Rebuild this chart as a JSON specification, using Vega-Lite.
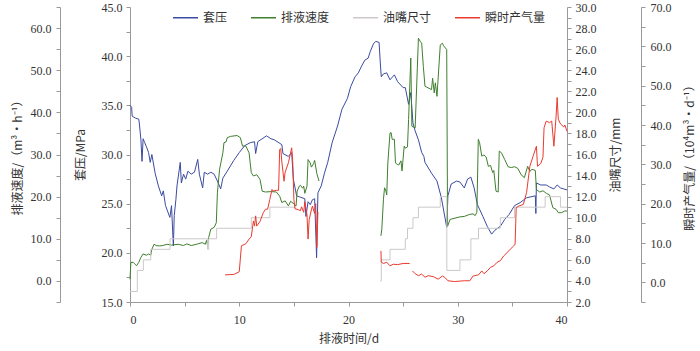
{
  "$schema": "https://vega.github.io/schema/vega-lite/v6.json",
  "autosize": "none",
  "width": 437,
  "height": 295,
  "padding": {"left": 130, "top": 7, "right": 133, "bottom": 49},
  "background": "white",
  "datasets": {
    "p": [
      {"s":"套压","g":1,"d":0,"v":35.0},{"s":"套压","g":1,"d":0.15,"v":34.8},{"s":"套压","g":1,"d":0.2,"v":33.9},{"s":"套压","g":1,"d":0.5,"v":33.7},{"s":"套压","g":1,"d":0.8,"v":33.6},{"s":"套压","g":1,"d":0.85,"v":33.2},{"s":"套压","g":1,"d":1.0,"v":31.5},{"s":"套压","g":1,"d":1.1,"v":29.3},{"s":"套压","g":1,"d":1.2,"v":31.6},{"s":"套压","g":1,"d":1.35,"v":31.2},{"s":"套压","g":1,"d":1.5,"v":30.8},{"s":"套压","g":1,"d":1.7,"v":30.2},{"s":"套压","g":1,"d":1.85,"v":29.2},{"s":"套压","g":1,"d":2.0,"v":30.0},{"s":"套压","g":1,"d":2.3,"v":28.1},{"s":"套压","g":1,"d":2.6,"v":26.8},{"s":"套压","g":1,"d":2.9,"v":25.8},{"s":"套压","g":1,"d":3.05,"v":26.3},{"s":"套压","g":1,"d":3.25,"v":24.8},{"s":"套压","g":1,"d":3.65,"v":23.6},{"s":"套压","g":1,"d":3.8,"v":24.8},{"s":"套压","g":1,"d":3.97,"v":20.7},{"s":"套压","g":1,"d":4.05,"v":23.8},{"s":"套压","g":1,"d":4.2,"v":25.4},{"s":"套压","g":1,"d":4.3,"v":26.8},{"s":"套压","g":1,"d":4.6,"v":29.2},{"s":"套压","g":1,"d":4.7,"v":27.1},{"s":"套压","g":1,"d":4.9,"v":28.0},{"s":"套压","g":1,"d":5.1,"v":27.5},{"s":"套压","g":1,"d":5.3,"v":28.3},{"s":"套压","g":1,"d":5.6,"v":28.0},{"s":"套压","g":1,"d":5.9,"v":28.2},{"s":"套压","g":1,"d":6.2,"v":29.5},{"s":"套压","g":1,"d":6.35,"v":28.0},{"s":"套压","g":1,"d":6.65,"v":26.6},{"s":"套压","g":1,"d":6.8,"v":28.2},{"s":"套压","g":1,"d":7.1,"v":28.0},{"s":"套压","g":1,"d":7.4,"v":28.2},{"s":"套压","g":1,"d":7.7,"v":28.0},{"s":"套压","g":1,"d":8.0,"v":27.3},{"s":"套压","g":1,"d":8.3,"v":26.5},{"s":"套压","g":1,"d":8.5,"v":27.6},{"s":"套压","g":1,"d":8.9,"v":28.3},{"s":"套压","g":1,"d":9.5,"v":29.4},{"s":"套压","g":1,"d":10.0,"v":30.2},{"s":"套压","g":1,"d":10.5,"v":30.9},{"s":"套压","g":1,"d":11.0,"v":31.2},{"s":"套压","g":1,"d":11.4,"v":31.3},{"s":"套压","g":1,"d":11.5,"v":30.1},{"s":"套压","g":1,"d":11.7,"v":31.3},{"s":"套压","g":1,"d":12.5,"v":31.9},{"s":"套压","g":1,"d":12.9,"v":31.6},{"s":"套压","g":1,"d":13.2,"v":31.5},{"s":"套压","g":1,"d":13.9,"v":31.0},{"s":"套压","g":1,"d":14.0,"v":30.1},{"s":"套压","g":1,"d":14.5,"v":29.8},{"s":"套压","g":1,"d":14.8,"v":30.2},{"s":"套压","g":1,"d":14.95,"v":27.5},{"s":"套压","g":1,"d":15.25,"v":25.8},{"s":"套压","g":1,"d":15.5,"v":25.7},{"s":"套压","g":1,"d":16.0,"v":25.5},{"s":"套压","g":1,"d":16.1,"v":23.7},{"s":"套压","g":1,"d":16.3,"v":25.2},{"s":"套压","g":1,"d":16.5,"v":24.9},{"s":"套压","g":1,"d":16.7,"v":25.4},{"s":"套压","g":1,"d":16.9,"v":25.5},{"s":"套压","g":1,"d":17.08,"v":19.5},{"s":"套压","g":1,"d":17.2,"v":26.1},{"s":"套压","g":1,"d":17.5,"v":26.8},{"s":"套压","g":1,"d":17.8,"v":28.1},{"s":"套压","g":1,"d":18.1,"v":29.2},{"s":"套压","g":1,"d":18.5,"v":31.2},{"s":"套压","g":1,"d":19.0,"v":32.9},{"s":"套压","g":1,"d":19.4,"v":34.6},{"s":"套压","g":1,"d":19.9,"v":35.7},{"s":"套压","g":1,"d":20.2,"v":36.9},{"s":"套压","g":1,"d":20.6,"v":37.9},{"s":"套压","g":1,"d":20.9,"v":38.3},{"s":"套压","g":1,"d":21.2,"v":39.0},{"s":"套压","g":1,"d":21.5,"v":39.6},{"s":"套压","g":1,"d":21.8,"v":39.8},{"s":"套压","g":1,"d":22.0,"v":40.5},{"s":"套压","g":1,"d":22.3,"v":41.3},{"s":"套压","g":1,"d":22.5,"v":41.5},{"s":"套压","g":1,"d":22.8,"v":41.4},{"s":"套压","g":1,"d":22.9,"v":39.5},{"s":"套压","g":1,"d":23.0,"v":37.9},{"s":"套压","g":1,"d":23.2,"v":38.2},{"s":"套压","g":1,"d":23.5,"v":38.3},{"s":"套压","g":1,"d":23.8,"v":37.6},{"s":"套压","g":1,"d":24.2,"v":38.1},{"s":"套压","g":1,"d":24.5,"v":37.4},{"s":"套压","g":1,"d":25.0,"v":36.8},{"s":"套压","g":1,"d":25.2,"v":36.8},{"s":"套压","g":1,"d":25.5,"v":35.1},{"s":"套压","g":1,"d":25.7,"v":36.3},{"s":"套压","g":1,"d":25.9,"v":33.2},{"s":"套压","g":1,"d":26.1,"v":32.4},{"s":"套压","g":1,"d":26.4,"v":31.5},{"s":"套压","g":1,"d":26.7,"v":30.2},{"s":"套压","g":1,"d":26.9,"v":29.8},{"s":"套压","g":1,"d":27.0,"v":29.2},{"s":"套压","g":1,"d":27.6,"v":28.1},{"s":"套压","g":1,"d":28.1,"v":27.3},{"s":"套压","g":1,"d":28.5,"v":25.6},{"s":"套压","g":1,"d":28.99,"v":22.6},{"s":"套压","g":1,"d":29.1,"v":25.8},{"s":"套压","g":1,"d":29.4,"v":27.0},{"s":"套压","g":1,"d":29.9,"v":27.3},{"s":"套压","g":1,"d":30.2,"v":27.2},{"s":"套压","g":1,"d":30.6,"v":26.6},{"s":"套压","g":1,"d":30.9,"v":27.5},{"s":"套压","g":1,"d":31.2,"v":27.7},{"s":"套压","g":1,"d":31.5,"v":26.6},{"s":"套压","g":1,"d":31.8,"v":24.9},{"s":"套压","g":1,"d":32.3,"v":23.7},{"s":"套压","g":1,"d":32.7,"v":22.7},{"s":"套压","g":1,"d":33.1,"v":21.9},{"s":"套压","g":1,"d":33.4,"v":22.3},{"s":"套压","g":1,"d":33.9,"v":22.7},{"s":"套压","g":1,"d":34.3,"v":23.4},{"s":"套压","g":1,"d":34.7,"v":23.9},{"s":"套压","g":1,"d":35.2,"v":24.8},{"s":"套压","g":1,"d":35.7,"v":25.1},{"s":"套压","g":1,"d":36.3,"v":25.6},{"s":"套压","g":1,"d":36.7,"v":25.7},{"s":"套压","g":1,"d":37.1,"v":25.8},{"s":"套压","g":1,"d":37.15,"v":24.0},{"s":"套压","g":1,"d":37.2,"v":27.1},{"s":"套压","g":1,"d":37.6,"v":26.9},{"s":"套压","g":1,"d":38.1,"v":26.9},{"s":"套压","g":1,"d":38.4,"v":26.7},{"s":"套压","g":1,"d":38.8,"v":26.5},{"s":"套压","g":1,"d":39.1,"v":26.9},{"s":"套压","g":1,"d":39.4,"v":26.6},{"s":"套压","g":1,"d":39.7,"v":26.5},{"s":"套压","g":1,"d":40.0,"v":26.4}
    ],
    "v": [
      {"s":"排液速度","g":1,"d":0,"v":0.4},{"s":"排液速度","g":1,"d":0.08,"v":4.4},{"s":"排液速度","g":1,"d":0.3,"v":4.4},{"s":"排液速度","g":1,"d":0.6,"v":3.6},{"s":"排液速度","g":1,"d":0.8,"v":4.4},{"s":"排液速度","g":1,"d":1.0,"v":5.6},{"s":"排液速度","g":1,"d":1.2,"v":6.4},{"s":"排液速度","g":1,"d":1.5,"v":6.1},{"s":"排液速度","g":1,"d":1.7,"v":6.4},{"s":"排液速度","g":1,"d":1.9,"v":6.1},{"s":"排液速度","g":1,"d":2.0,"v":7.5},{"s":"排液速度","g":1,"d":2.2,"v":8.7},{"s":"排液速度","g":1,"d":2.4,"v":8.4},{"s":"排液速度","g":1,"d":2.7,"v":8.3},{"s":"排液速度","g":1,"d":3.0,"v":8.4},{"s":"排液速度","g":1,"d":3.4,"v":8.7},{"s":"排液速度","g":1,"d":3.8,"v":8.5},{"s":"排液速度","g":1,"d":4.4,"v":8.7},{"s":"排液速度","g":1,"d":4.9,"v":8.4},{"s":"排液速度","g":1,"d":5.2,"v":8.8},{"s":"排液速度","g":1,"d":5.6,"v":8.4},{"s":"排液速度","g":1,"d":6.1,"v":8.7},{"s":"排液速度","g":1,"d":6.6,"v":9.1},{"s":"排液速度","g":1,"d":6.9,"v":8.7},{"s":"排液速度","g":1,"d":7.0,"v":9.6},{"s":"排液速度","g":1,"d":7.1,"v":8.5},{"s":"排液速度","g":1,"d":7.2,"v":10.3},{"s":"排液速度","g":1,"d":7.4,"v":12.3},{"s":"排液速度","g":1,"d":7.7,"v":12.7},{"s":"排液速度","g":1,"d":7.9,"v":13.8},{"s":"排液速度","g":1,"d":8.0,"v":20.9},{"s":"排液速度","g":1,"d":8.2,"v":26.5},{"s":"排液速度","g":1,"d":8.5,"v":30.4},{"s":"排液速度","g":1,"d":8.6,"v":32.8},{"s":"排液速度","g":1,"d":8.8,"v":33.0},{"s":"排液速度","g":1,"d":8.9,"v":34.0},{"s":"排液速度","g":1,"d":9.2,"v":34.3},{"s":"排液速度","g":1,"d":9.8,"v":34.5},{"s":"排液速度","g":1,"d":10.1,"v":34.0},{"s":"排液速度","g":1,"d":10.3,"v":32.0},{"s":"排液速度","g":1,"d":10.6,"v":32.0},{"s":"排液速度","g":1,"d":10.9,"v":30.4},{"s":"排液速度","g":1,"d":11.1,"v":25.7},{"s":"排液速度","g":1,"d":11.3,"v":24.9},{"s":"排液速度","g":1,"d":11.6,"v":25.2},{"s":"排液速度","g":1,"d":11.9,"v":24.1},{"s":"排液速度","g":1,"d":12.1,"v":21.3},{"s":"排液速度","g":1,"d":12.4,"v":21.1},{"s":"排液速度","g":1,"d":12.9,"v":21.2},{"s":"排液速度","g":1,"d":13.4,"v":21.1},{"s":"排液速度","g":1,"d":13.7,"v":20.1},{"s":"排液速度","g":1,"d":13.9,"v":18.6},{"s":"排液速度","g":1,"d":14.2,"v":19.0},{"s":"排液速度","g":1,"d":14.5,"v":17.8},{"s":"排液速度","g":1,"d":14.7,"v":18.9},{"s":"排液速度","g":1,"d":15.0,"v":18.3},{"s":"排液速度","g":1,"d":15.2,"v":17.8},{"s":"排液速度","g":1,"d":15.3,"v":21.3},{"s":"排液速度","g":1,"d":15.5,"v":22.5},{"s":"排液速度","g":1,"d":15.6,"v":22.7},{"s":"排液速度","g":1,"d":15.8,"v":22.0},{"s":"排液速度","g":1,"d":15.9,"v":22.5},{"s":"排液速度","g":1,"d":16.0,"v":20.8},{"s":"排液速度","g":1,"d":16.2,"v":22.5},{"s":"排液速度","g":1,"d":16.3,"v":28.8},{"s":"排液速度","g":1,"d":16.5,"v":28.0},{"s":"排液速度","g":1,"d":16.6,"v":27.0},{"s":"排液速度","g":1,"d":16.8,"v":27.8},{"s":"排液速度","g":1,"d":16.9,"v":28.6},{"s":"排液速度","g":1,"d":17.1,"v":25.5},{"s":"排液速度","g":1,"d":17.3,"v":23.7},
      {"s":"排液速度","g":2,"d":22.97,"v":10.7},{"s":"排液速度","g":2,"d":23.05,"v":12.3},{"s":"排液速度","g":2,"d":23.2,"v":19.4},{"s":"排液速度","g":2,"d":23.3,"v":22.1},{"s":"排液速度","g":2,"d":23.4,"v":21.6},{"s":"排液速度","g":2,"d":23.5,"v":20.4},{"s":"排液速度","g":2,"d":23.6,"v":28.0},{"s":"排液速度","g":2,"d":23.8,"v":35.1},{"s":"排液速度","g":2,"d":23.9,"v":35.2},{"s":"排液速度","g":2,"d":24.0,"v":33.6},{"s":"排液速度","g":2,"d":24.2,"v":33.6},{"s":"排液速度","g":2,"d":24.3,"v":28.0},{"s":"排液速度","g":2,"d":24.5,"v":27.6},{"s":"排液速度","g":2,"d":24.6,"v":27.5},{"s":"排液速度","g":2,"d":24.8,"v":28.5},{"s":"排液速度","g":2,"d":24.9,"v":26.1},{"s":"排液速度","g":2,"d":25.1,"v":32.0},{"s":"排液速度","g":2,"d":25.2,"v":31.5},{"s":"排液速度","g":2,"d":25.4,"v":31.8},{"s":"排液速度","g":2,"d":25.5,"v":38.3},{"s":"排液速度","g":2,"d":25.7,"v":52.9},{"s":"排液速度","g":2,"d":25.8,"v":36.7},{"s":"排液速度","g":2,"d":26.1,"v":36.3},{"s":"排液速度","g":2,"d":26.4,"v":57.6},{"s":"排液速度","g":2,"d":26.55,"v":56.9},{"s":"排液速度","g":2,"d":26.7,"v":56.4},{"s":"排液速度","g":2,"d":26.85,"v":50.9},{"s":"排液速度","g":2,"d":27.0,"v":46.2},{"s":"排液速度","g":2,"d":27.3,"v":45.8},{"s":"排液速度","g":2,"d":27.6,"v":45.4},{"s":"排液速度","g":2,"d":27.7,"v":48.1},{"s":"排液速度","g":2,"d":27.85,"v":44.6},{"s":"排液速度","g":2,"d":27.95,"v":47.0},{"s":"排液速度","g":2,"d":28.1,"v":43.8},{"s":"排液速度","g":2,"d":28.4,"v":56.0},{"s":"排液速度","g":2,"d":28.6,"v":56.4},{"s":"排液速度","g":2,"d":28.7,"v":55.8},{"s":"排液速度","g":2,"d":28.99,"v":54.9},{"s":"排液速度","g":2,"d":29.07,"v":13.0},{"s":"排液速度","g":2,"d":29.3,"v":14.6},{"s":"排液速度","g":2,"d":29.75,"v":14.9},{"s":"排液速度","g":2,"d":30.2,"v":15.2},{"s":"排液速度","g":2,"d":30.6,"v":15.3},{"s":"排液速度","g":2,"d":31.1,"v":15.8},{"s":"排液速度","g":2,"d":31.4,"v":15.9},{"s":"排液速度","g":2,"d":31.6,"v":15.5},{"s":"排液速度","g":2,"d":31.75,"v":16.3},{"s":"排液速度","g":2,"d":31.88,"v":33.6},{"s":"排液速度","g":2,"d":32.0,"v":32.8},{"s":"排液速度","g":2,"d":32.2,"v":29.6},{"s":"排液速度","g":2,"d":32.4,"v":29.9},{"s":"排液速度","g":2,"d":32.6,"v":29.4},{"s":"排液速度","g":2,"d":32.8,"v":27.2},{"s":"排液速度","g":2,"d":33.0,"v":27.4},{"s":"排液速度","g":2,"d":33.2,"v":25.7},{"s":"排液速度","g":2,"d":33.3,"v":26.2},{"s":"排液速度","g":2,"d":33.5,"v":21.3},{"s":"排液速度","g":2,"d":33.7,"v":21.1},{"s":"排液速度","g":2,"d":33.8,"v":30.8},{"s":"排液速度","g":2,"d":34.0,"v":30.4},{"s":"排液速度","g":2,"d":34.3,"v":28.8},{"s":"排液速度","g":2,"d":34.6,"v":27.1},{"s":"排液速度","g":2,"d":34.9,"v":26.9},{"s":"排液速度","g":2,"d":35.2,"v":27.1},{"s":"排液速度","g":2,"d":35.5,"v":26.7},{"s":"排液速度","g":2,"d":35.8,"v":25.2},{"s":"排液速度","g":2,"d":36.1,"v":24.5},{"s":"排液速度","g":2,"d":36.4,"v":27.2},{"s":"排液速度","g":2,"d":36.6,"v":26.0},{"s":"排液速度","g":2,"d":36.8,"v":26.5},{"s":"排液速度","g":2,"d":37.1,"v":26.2},{"s":"排液速度","g":2,"d":37.2,"v":21.7},{"s":"排液速度","g":2,"d":37.5,"v":21.1},{"s":"排液速度","g":2,"d":37.8,"v":21.4},{"s":"排液速度","g":2,"d":38.1,"v":20.8},{"s":"排液速度","g":2,"d":38.4,"v":20.4},{"s":"排液速度","g":2,"d":38.7,"v":17.4},{"s":"排液速度","g":2,"d":39.0,"v":17.0},{"s":"排液速度","g":2,"d":39.2,"v":16.2},{"s":"排液速度","g":2,"d":39.5,"v":16.2},{"s":"排液速度","g":2,"d":39.8,"v":16.6},{"s":"排液速度","g":2,"d":40.0,"v":16.6}
    ],
    "n": [
      {"s":"油嘴尺寸","g":1,"d":0,"v":3},{"s":"油嘴尺寸","g":1,"d":0.67,"v":5},{"s":"油嘴尺寸","g":1,"d":1.22,"v":6},{"s":"油嘴尺寸","g":1,"d":1.9,"v":7},{"s":"油嘴尺寸","g":1,"d":3.66,"v":8},{"s":"油嘴尺寸","g":1,"d":7.1,"v":7},{"s":"油嘴尺寸","g":1,"d":7.2,"v":8},{"s":"油嘴尺寸","g":1,"d":7.93,"v":9},{"s":"油嘴尺寸","g":1,"d":11.1,"v":10},{"s":"油嘴尺寸","g":1,"d":12.8,"v":11},{"s":"油嘴尺寸","g":1,"d":15.2,"v":11},
      {"s":"油嘴尺寸","g":2,"d":22.9,"v":4},{"s":"油嘴尺寸","g":2,"d":23.0,"v":6},{"s":"油嘴尺寸","g":2,"d":23.8,"v":7},{"s":"油嘴尺寸","g":2,"d":25.2,"v":8},{"s":"油嘴尺寸","g":2,"d":25.4,"v":9},{"s":"油嘴尺寸","g":2,"d":25.9,"v":10},{"s":"油嘴尺寸","g":2,"d":26.4,"v":11},{"s":"油嘴尺寸","g":2,"d":28.4,"v":12},{"s":"油嘴尺寸","g":2,"d":29.0,"v":5},{"s":"油嘴尺寸","g":2,"d":30.2,"v":6},{"s":"油嘴尺寸","g":2,"d":31.2,"v":8},{"s":"油嘴尺寸","g":2,"d":31.9,"v":9},{"s":"油嘴尺寸","g":2,"d":33.9,"v":10},{"s":"油嘴尺寸","g":2,"d":35.2,"v":11},{"s":"油嘴尺寸","g":2,"d":38.0,"v":12},{"s":"油嘴尺寸","g":2,"d":39.4,"v":11},{"s":"油嘴尺寸","g":2,"d":40.0,"v":11}
    ],
    "q": [
      {"s":"瞬时产气量","g":1,"d":8.7,"v":1.9},{"s":"瞬时产气量","g":1,"d":9.5,"v":2.0},{"s":"瞬时产气量","g":1,"d":10.0,"v":2.7},{"s":"瞬时产气量","g":1,"d":10.2,"v":9.3},{"s":"瞬时产气量","g":1,"d":10.6,"v":9.8},{"s":"瞬时产气量","g":1,"d":10.9,"v":11.0},{"s":"瞬时产气量","g":1,"d":11.1,"v":11.6},{"s":"瞬时产气量","g":1,"d":11.3,"v":15.6},{"s":"瞬时产气量","g":1,"d":11.4,"v":14.3},{"s":"瞬时产气量","g":1,"d":11.5,"v":16.9},{"s":"瞬时产气量","g":1,"d":11.6,"v":14.3},{"s":"瞬时产气量","g":1,"d":11.9,"v":15.5},{"s":"瞬时产气量","g":1,"d":12.2,"v":17.7},{"s":"瞬时产气量","g":1,"d":12.4,"v":18.6},{"s":"瞬时产气量","g":1,"d":12.6,"v":18.6},{"s":"瞬时产气量","g":1,"d":12.8,"v":21.1},{"s":"瞬时产气量","g":1,"d":13.0,"v":23.6},{"s":"瞬时产气量","g":1,"d":13.1,"v":23.2},{"s":"瞬时产气量","g":1,"d":13.4,"v":23.4},{"s":"瞬时产气量","g":1,"d":13.6,"v":23.4},{"s":"瞬时产气量","g":1,"d":13.7,"v":33.8},{"s":"瞬时产气量","g":1,"d":13.8,"v":34.0},{"s":"瞬时产气量","g":1,"d":13.9,"v":30.6},{"s":"瞬时产气量","g":1,"d":14.1,"v":25.7},{"s":"瞬时产气量","g":1,"d":14.2,"v":28.0},{"s":"瞬时产气量","g":1,"d":14.5,"v":30.4},{"s":"瞬时产气量","g":1,"d":14.8,"v":34.2},{"s":"瞬时产气量","g":1,"d":14.9,"v":30.4},{"s":"瞬时产气量","g":1,"d":15.0,"v":21.1},{"s":"瞬时产气量","g":1,"d":15.1,"v":18.7},{"s":"瞬时产气量","g":1,"d":15.4,"v":18.5},{"s":"瞬时产气量","g":1,"d":15.6,"v":18.2},{"s":"瞬时产气量","g":1,"d":15.7,"v":19.2},{"s":"瞬时产气量","g":1,"d":15.9,"v":17.8},{"s":"瞬时产气量","g":1,"d":16.0,"v":20.5},{"s":"瞬时产气量","g":1,"d":16.2,"v":17.2},{"s":"瞬时产气量","g":1,"d":16.3,"v":11.0},{"s":"瞬时产气量","g":1,"d":16.4,"v":15.9},{"s":"瞬时产气量","g":1,"d":16.6,"v":18.4},{"s":"瞬时产气量","g":1,"d":16.7,"v":19.4},{"s":"瞬时产气量","g":1,"d":16.9,"v":17.5},{"s":"瞬时产气量","g":1,"d":17.0,"v":20.0},{"s":"瞬时产气量","g":1,"d":17.1,"v":8.9},{"s":"瞬时产气量","g":1,"d":17.2,"v":17.9},
      {"s":"瞬时产气量","g":2,"d":22.97,"v":8.0},{"s":"瞬时产气量","g":2,"d":23.0,"v":5.1},{"s":"瞬时产气量","g":2,"d":23.2,"v":4.8},{"s":"瞬时产气量","g":2,"d":23.5,"v":5.1},{"s":"瞬时产气量","g":2,"d":23.8,"v":4.2},{"s":"瞬时产气量","g":2,"d":24.1,"v":4.6},{"s":"瞬时产气量","g":2,"d":24.5,"v":4.5},{"s":"瞬时产气量","g":2,"d":25.0,"v":4.8},{"s":"瞬时产气量","g":2,"d":25.6,"v":4.8},
      {"s":"瞬时产气量","g":3,"d":25.85,"v":2.9},{"s":"瞬时产气量","g":3,"d":26.1,"v":2.2},{"s":"瞬时产气量","g":3,"d":26.4,"v":1.7},{"s":"瞬时产气量","g":3,"d":26.7,"v":2.1},{"s":"瞬时产气量","g":3,"d":27.0,"v":1.3},{"s":"瞬时产气量","g":3,"d":27.3,"v":1.7},{"s":"瞬时产气量","g":3,"d":27.8,"v":1.4},{"s":"瞬时产气量","g":3,"d":28.2,"v":0.8},{"s":"瞬时产气量","g":3,"d":28.6,"v":1.6},{"s":"瞬时产气量","g":3,"d":28.8,"v":1.3},{"s":"瞬时产气量","g":3,"d":29.1,"v":0.4},{"s":"瞬时产气量","g":3,"d":29.7,"v":0.2},{"s":"瞬时产气量","g":3,"d":30.6,"v":0.4},{"s":"瞬时产气量","g":3,"d":31.1,"v":0.4},{"s":"瞬时产气量","g":3,"d":31.4,"v":1.6},{"s":"瞬时产气量","g":3,"d":31.9,"v":1.9},{"s":"瞬时产气量","g":3,"d":32.2,"v":2.9},{"s":"瞬时产气量","g":3,"d":32.4,"v":2.2},{"s":"瞬时产气量","g":3,"d":32.7,"v":2.9},{"s":"瞬时产气量","g":3,"d":33.0,"v":3.8},{"s":"瞬时产气量","g":3,"d":33.3,"v":4.2},{"s":"瞬时产气量","g":3,"d":33.6,"v":5.1},{"s":"瞬时产气量","g":3,"d":33.9,"v":5.5},{"s":"瞬时产气量","g":3,"d":34.2,"v":6.7},{"s":"瞬时产气量","g":3,"d":34.5,"v":7.5},{"s":"瞬时产气量","g":3,"d":34.8,"v":8.4},{"s":"瞬时产气量","g":3,"d":35.1,"v":9.2},{"s":"瞬时产气量","g":3,"d":35.25,"v":9.7},{"s":"瞬时产气量","g":3,"d":35.35,"v":19.0},{"s":"瞬时产气量","g":3,"d":35.6,"v":19.4},{"s":"瞬时产气量","g":3,"d":36.0,"v":19.8},{"s":"瞬时产气量","g":3,"d":36.3,"v":22.8},{"s":"瞬时产气量","g":3,"d":36.6,"v":29.5},{"s":"瞬时产气量","g":3,"d":36.9,"v":32.1},{"s":"瞬时产气量","g":3,"d":37.2,"v":34.6},{"s":"瞬时产气量","g":3,"d":37.3,"v":29.5},{"s":"瞬时产气量","g":3,"d":37.6,"v":30.2},{"s":"瞬时产气量","g":3,"d":37.8,"v":31.8},{"s":"瞬时产气量","g":3,"d":37.9,"v":39.3},{"s":"瞬时产气量","g":3,"d":38.1,"v":41.0},{"s":"瞬时产气量","g":3,"d":38.4,"v":40.6},{"s":"瞬时产气量","g":3,"d":38.6,"v":41.0},{"s":"瞬时产气量","g":3,"d":38.8,"v":34.6},{"s":"瞬时产气量","g":3,"d":39.0,"v":42.2},{"s":"瞬时产气量","g":3,"d":39.1,"v":47.0},{"s":"瞬时产气量","g":3,"d":39.2,"v":41.5},{"s":"瞬时产气量","g":3,"d":39.4,"v":40.3},{"s":"瞬时产气量","g":3,"d":39.7,"v":39.5},{"s":"瞬时产气量","g":3,"d":39.8,"v":40.0},{"s":"瞬时产气量","g":3,"d":40.0,"v":38.4}
    ]
  },
  "encoding": {
    "x": {
      "field": "d", "type": "quantitative",
      "scale": {"domain": [0, 40], "nice": false},
      "axis": {
        "title": "排液时间/d",
        "values": [0, 5, 10, 15, 20, 25, 30, 35, 40],
        "labelExpr": "datum.value % 10 == 0 ? format(datum.value, 'd') : ''",
        "labelPadding": 8, "titlePadding": 8
      }
    },
    "color": {
      "field": "s", "type": "nominal",
      "scale": {"domain": ["套压", "排液速度", "油嘴尺寸", "瞬时产气量"], "range": ["#3b4ba0", "#3f7f2f", "#ccc8c8", "#ea3a2e"]},
      "legend": {"title": null, "orient": "none", "legendX": 42, "legendY": -3, "direction": "horizontal", "columns": 4, "columnPadding": 20, "symbolType": "stroke", "symbolSize": 625, "symbolStrokeWidth": 1.5, "labelOffset": 4, "labelFontSize": 12, "labelFont": "Noto Sans CJK SC", "labelColor": "#333", "padding": 0}
    },
    "detail": {"field": "g"}
  },
  "layer": [
    {
      "data": {"name": "p"},
      "mark": {"type": "line", "strokeWidth": 1},
      "encoding": {
        "y": {"field": "v", "type": "quantitative", "scale": {"domain": [15, 45], "nice": false, "zero": false},
          "axis": {"orient": "left", "offset": 0, "title": "套压/MPa", "titlePadding": 14, "values": [15, 17.5, 20, 22.5, 25, 27.5, 30, 32.5, 35, 37.5, 40, 42.5, 45], "labelExpr": "datum.value % 5 == 0 ? format(datum.value, '.1f') : ''"}}
      }
    },
    {
      "data": {"name": "v"},
      "mark": {"type": "line", "strokeWidth": 1},
      "encoding": {
        "y": {"field": "v", "type": "quantitative", "scale": {"domain": [-5, 65], "nice": false, "zero": false},
          "axis": {"orient": "left", "offset": 70, "title": "排液速度/（m³•h⁻¹）", "values": [-5, 0, 5, 10, 15, 20, 25, 30, 35, 40, 45, 50, 55, 60, 65], "labelExpr": "datum.value % 10 == 0 ? format(datum.value, '.1f') : ''", "labelPadding": 5}}
      }
    },
    {
      "data": {"name": "n"},
      "mark": {"type": "line", "strokeWidth": 1, "interpolate": "step-after"},
      "encoding": {
        "y": {"field": "v", "type": "quantitative", "scale": {"domain": [2, 30], "nice": false, "zero": false},
          "axis": {"orient": "right", "offset": 0, "title": "油嘴尺寸/mm", "titleAngle": -90, "titleBaseline": "top", "titlePadding": 14, "values": [2,3,4,5,6,7,8,9,10,11,12,13,14,15,16,17,18,19,20,21,22,23,24,25,26,27,28,29,30], "labelExpr": "datum.value % 2 == 0 ? format(datum.value, '.1f') : ''"}}
      }
    },
    {
      "data": {"name": "q"},
      "mark": {"type": "line", "strokeWidth": 1},
      "encoding": {
        "y": {"field": "v", "type": "quantitative", "scale": {"domain": [-5, 70], "nice": false, "zero": false},
          "axis": {"orient": "right", "offset": 74, "title": "瞬时产气量/（10⁴m³•d⁻¹）", "titleAngle": -90, "titleBaseline": "top", "titlePadding": 13, "values": [-5, 0, 5, 10, 15, 20, 25, 30, 35, 40, 45, 50, 55, 60, 65, 70], "labelExpr": "datum.value % 10 == 0 ? format(datum.value, '.1f') : ''", "labelPadding": 5}}
      }
    }
  ],
  "resolve": {"scale": {"y": "independent"}},
  "config": {
    "view": {"stroke": null},
    "axis": {
      "grid": false,
      "domainColor": "#999",
      "tickColor": "#999",
      "tickSize": 4,
      "labelFont": "'Liberation Serif', 'DejaVu Serif', serif",
      "labelFontSize": 12,
      "labelColor": "#333",
      "labelPadding": 4,
      "labelOverlap": false,
      "titleFont": "Noto Sans CJK SC",
      "titleFontSize": 12,
      "titleFontWeight": "normal",
      "titleColor": "#333",
      "titlePadding": 6
    }
  }
}
